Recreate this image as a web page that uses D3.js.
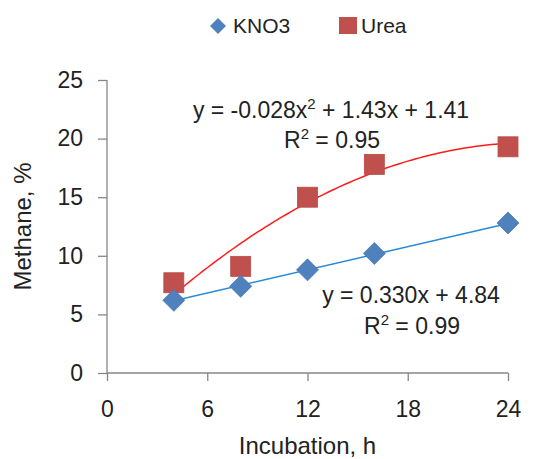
<!DOCTYPE html>
<html>
<head>
<meta charset="utf-8">
<script src="https://cdn.jsdelivr.net/npm/d3@7"></script>
<style>
  body { margin: 0; background: #fff; }
  text { font-family: "Liberation Sans", Arial, sans-serif; fill: #222; }
</style>
</head>
<body>
<div id="chart"></div>
<script>
// data
var hours = [4, 8, 12, 16, 24];
var kno3 = [6.2, 7.4, 8.8, 10.2, 12.8];
var urea = [7.7, 9.1, 15.0, 17.8, 19.3];
var xTicks = [0, 6, 12, 18, 24];
var yTicks = [0, 5, 10, 15, 20, 25];
// trendline coefficients (as printed on the chart)
var linFit = { a: 0.330, b: 4.84 };
var polyFit = { a: -0.028, b: 1.43, c: 1.41 };

var W = 538, H = 459;
var margin = { top: 80, right: 30, bottom: 86, left: 107 };
var w = W - margin.left - margin.right;
var h = H - margin.top - margin.bottom;

var svg = d3.select('#chart').append('svg')
  .attr('width', W)
  .attr('height', H);

var g = svg.append('g')
  .attr('transform', 'translate(' + margin.left + ',' + margin.top + ')');

var x = d3.scaleLinear().domain([0, 24]).range([0, w]);
var y = d3.scaleLinear().domain([0, 25]).range([h, 0]);

var axisColor = '#878787';

// X axis
var gx = g.append('g')
  .attr('transform', 'translate(0,' + h + ')')
  .call(d3.axisBottom(x).tickValues(xTicks).tickSize(8));
gx.selectAll('text').style('font-size', '23px').attr('y', 44).attr('dy', 0);

// Y axis
var gy = g.append('g')
  .call(d3.axisLeft(y).tickValues(yTicks).tickSize(9).tickPadding(15));
gy.selectAll('text').style('font-size', '23px');

g.selectAll('.domain, .tick line')
  .attr('stroke', axisColor)
  .attr('stroke-width', 1.3);
// excel style: no end caps on the domain
gx.select('.domain').attr('d', 'M0,0H' + w);
gy.select('.domain').attr('d', 'M0,0V' + h);

// axis titles
svg.append('text')
  .attr('x', margin.left + x(12))
  .attr('y', 454)
  .attr('text-anchor', 'middle')
  .style('font-size', '24px')
  .text('Incubation, h');

svg.append('text')
  .attr('transform', 'translate(31,' + (margin.top + y(12.5)) + ') rotate(-90)')
  .attr('text-anchor', 'middle')
  .style('font-size', '24px')
  .text('Methane, %');

// trendlines
var xs = d3.range(4, 24.01, 0.25);
var line = d3.line()
  .x(function (d) { return x(d[0]); })
  .y(function (d) { return y(d[1]); });

g.append('path')
  .datum(xs.map(function (t) { return [t, polyFit.a * t * t + polyFit.b * t + polyFit.c]; }))
  .attr('d', line)
  .attr('fill', 'none')
  .attr('stroke', '#ff1a1a')
  .attr('stroke-width', 1.5);

g.append('path')
  .datum([4, 24].map(function (t) { return [t, linFit.a * t + linFit.b]; }))
  .attr('d', line)
  .attr('fill', 'none')
  .attr('stroke', '#2a8ad6')
  .attr('stroke-width', 1.5);

// markers
var sq = 20, dia = 11;
g.selectAll('.urea')
  .data(hours)
  .enter().append('rect')
  .attr('class', 'urea')
  .attr('x', function (d) { return x(d) - sq / 2; })
  .attr('y', function (d, i) { return y(urea[i]) - sq / 2; })
  .attr('width', sq)
  .attr('height', sq)
  .attr('fill', '#c0504d')
  .attr('stroke', '#b84b48')
  .attr('stroke-width', 0.8);

g.selectAll('.kno3')
  .data(hours)
  .enter().append('path')
  .attr('class', 'kno3')
  .attr('d', function (d, i) {
    var cx = x(d), cy = y(kno3[i]);
    return 'M' + cx + ',' + (cy - dia) + 'L' + (cx + dia) + ',' + cy +
      'L' + cx + ',' + (cy + dia) + 'L' + (cx - dia) + ',' + cy + 'Z';
  })
  .attr('fill', '#4f81bd')
  .attr('stroke', '#4a7ab3')
  .attr('stroke-width', 0.8);

// equations; parts in [] are superscripts
function eq(xc, yb, parts) {
  var t = svg.append('text')
    .attr('x', xc)
    .attr('y', yb)
    .attr('text-anchor', 'middle')
    .style('font-size', '23px');
  var shift = 0;
  parts.forEach(function (p) {
    if (Array.isArray(p)) {
      t.append('tspan').attr('dy', -9).style('font-size', '15px').text(p[0]);
      shift = 9;
    } else {
      t.append('tspan').attr('dy', shift).text(p);
      shift = 0;
    }
  });
}

eq(331, 118, ['y = -0.028x', ['2'], ' + 1.43x + 1.41']);
eq(332, 148, ['R', ['2'], ' = 0.95']);
eq(411, 303, ['y = 0.330x + 4.84']);
eq(412, 334, ['R', ['2'], ' = 0.99']);

// legend
var lg = svg.append('g');
lg.append('path')
  .attr('d', 'M218,18L226,26L218,34L210,26Z')
  .attr('fill', '#4f81bd');
lg.append('text')
  .attr('x', 233).attr('y', 33)
  .style('font-size', '21px')
  .text('KNO3');
lg.append('rect')
  .attr('x', 339).attr('y', 17)
  .attr('width', 18).attr('height', 17)
  .attr('fill', '#c0504d');
lg.append('text')
  .attr('x', 361).attr('y', 33)
  .style('font-size', '21px')
  .text('Urea');
</script>
</body>
</html>
